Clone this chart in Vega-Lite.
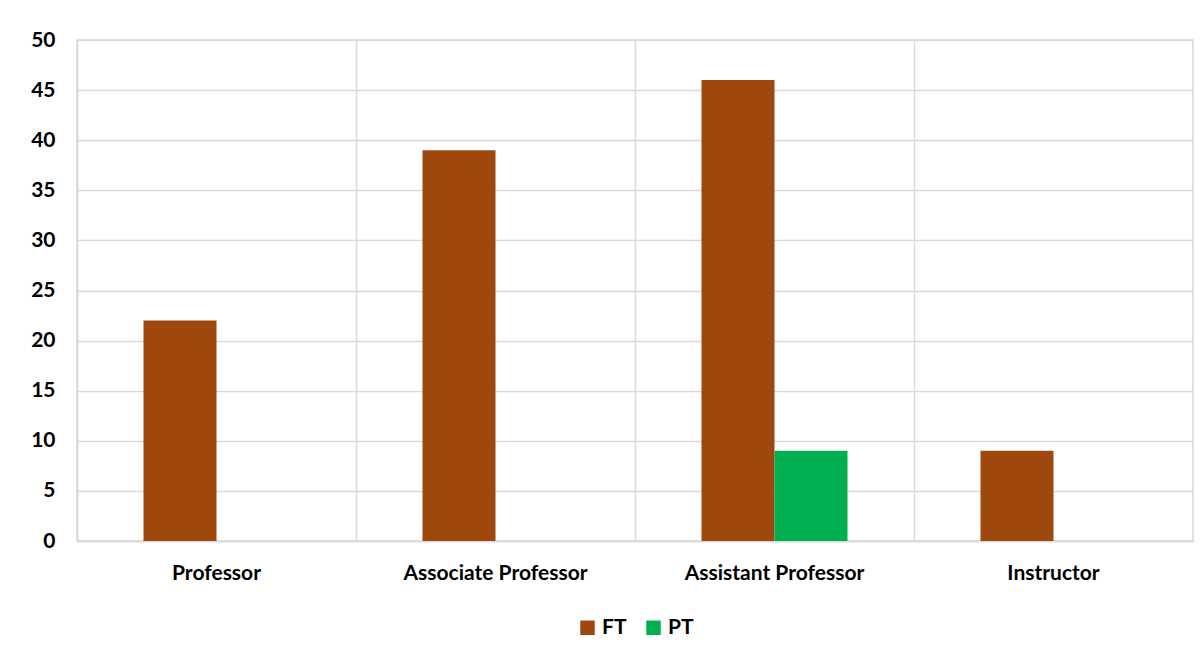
{
  "$schema": "https://vega.github.io/schema/vega-lite/v6.json",
  "autosize": "none",
  "width": 1116,
  "height": 501,
  "padding": {"left": 77, "top": 40, "right": 10, "bottom": 117},
  "background": "white",
  "data": {
    "values": [
      {"rank": "Professor", "type": "FT", "count": 22},
      {"rank": "Professor", "type": "PT", "count": 0},
      {"rank": "Associate Professor", "type": "FT", "count": 39},
      {"rank": "Associate Professor", "type": "PT", "count": 0},
      {"rank": "Assistant Professor", "type": "FT", "count": 46},
      {"rank": "Assistant Professor", "type": "PT", "count": 9},
      {"rank": "Instructor", "type": "FT", "count": 9},
      {"rank": "Instructor", "type": "PT", "count": 0}
    ]
  },
  "mark": {"type": "bar"},
  "encoding": {
    "x": {
      "field": "rank",
      "type": "nominal",
      "sort": ["Professor", "Associate Professor", "Assistant Professor", "Instructor"],
      "scale": {"paddingInner": 0, "paddingOuter": 0},
      "axis": {
        "title": null,
        "labelAngle": 0,
        "grid": true,
        "bandPosition": 0,
        "gridColor": "#d9d9d9",
        "gridWidth": 1.5,
        "domain": true,
        "domainColor": "#d9d9d9",
        "domainWidth": 1.5,
        "ticks": false,
        "labelPadding": 21,
        "labelFontSize": 21,
        "labelFontWeight": "bold",
        "labelFont": "Lato",
        "labelColor": "#000000",
        "labelLimit": 400
      }
    },
    "xOffset": {
      "field": "type",
      "type": "nominal",
      "scale": {"paddingInner": 0, "paddingOuter": 0.911}
    },
    "y": {
      "field": "count",
      "type": "quantitative",
      "scale": {"domain": [0, 50], "nice": false},
      "axis": {
        "title": null,
        "values": [0, 5, 10, 15, 20, 25, 30, 35, 40, 45, 50],
        "grid": true,
        "gridColor": "#d9d9d9",
        "gridWidth": 1.5,
        "domain": true,
        "domainColor": "#d9d9d9",
        "domainWidth": 1.5,
        "ticks": false,
        "labelPadding": 22,
        "labelFontSize": 21,
        "labelFontWeight": "bold",
        "labelFont": "Lato",
        "labelColor": "#000000"
      }
    },
    "color": {
      "field": "type",
      "type": "nominal",
      "scale": {"domain": ["FT", "PT"], "range": ["#9E480E", "#00B050"]},
      "legend": {
        "title": null,
        "orient": "bottom",
        "direction": "horizontal",
        "symbolType": "square",
        "symbolSize": 210,
        "symbolStrokeWidth": 0,
        "labelFontSize": 21,
        "labelFontWeight": "bold",
        "labelFont": "Lato",
        "labelColor": "#000000",
        "columnPadding": 16,
        "offset": 34
      }
    }
  },
  "config": {
    "view": {"stroke": "#d9d9d9", "strokeWidth": 1.5},
    "legend": {"layout": {"bottom": {"anchor": "middle"}}}
  }
}
